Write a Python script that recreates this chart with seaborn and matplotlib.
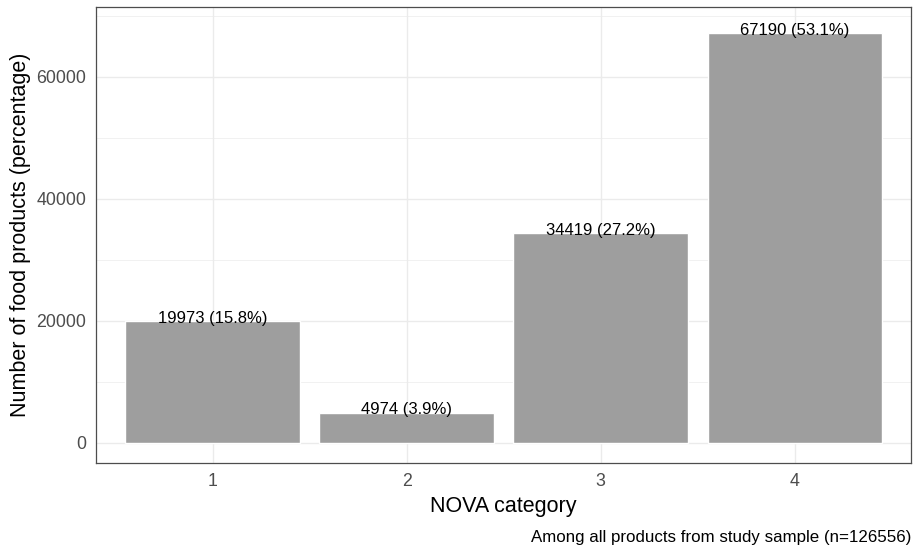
import numpy as np
import matplotlib
matplotlib.use('Agg')
import matplotlib.pyplot as plt
import seaborn as sns
import pandas as pd

categories = ['1', '2', '3', '4']
counts = [19973, 4974, 34419, 67190]
percents = [15.8, 3.9, 27.2, 53.1]
caption = 'Among all products from study sample (n=126556)'

df = pd.DataFrame({'NOVA': categories, 'Count': counts})

sns.set_theme(style='whitegrid')
plt.rcParams['font.family'] = ['Liberation Sans', 'DejaVu Sans']

fig = plt.figure(figsize=(9.15, 5.49), dpi=100)
ax = fig.add_axes([0.105, 0.157, 0.891, 0.831])
sns.barplot(data=df, x='NOVA', y='Count', color='#9e9e9e', saturation=1,
            width=0.9, ax=ax, zorder=2)

for i, (c, p) in enumerate(zip(counts, percents)):
    ax.annotate(f'{c} ({p}%)', (i, c), xytext=(0, 2), textcoords='offset points',
                ha='center', va='center', fontsize=12, color='black', zorder=3)

ax.set_ylim(-3250, 71500)
ax.set_xlim(-0.6, 3.6)
ax.set_yticks([0, 20000, 40000, 60000])
ax.set_yticks([10000, 30000, 50000, 70000], minor=True)
ax.grid(True, which='major', color='#ebebeb', linewidth=1.0, zorder=0)
ax.grid(True, which='minor', axis='y', color='#ebebeb', linewidth=0.5, zorder=0)
ax.set_axisbelow(True)
for s in ax.spines.values():
    s.set_color('#4d4d4d')
    s.set_linewidth(0.9)
    s.set_visible(True)
ax.tick_params(axis='both', which='major', length=4, width=0.9, color='#333333',
               labelsize=12.8, labelcolor='#4d4d4d', pad=3)
ax.tick_params(axis='y', which='minor', length=0)
ax.set_xlabel('NOVA category', fontsize=15.5, color='black', labelpad=5)
ax.set_ylabel('Number of food products (percentage)', fontsize=15.5, color='black', labelpad=4)

fig.text(0.996, 0.008, caption, ha='right', va='bottom', fontsize=12.2, color='black')

fig.savefig('out.png', dpi=100)
